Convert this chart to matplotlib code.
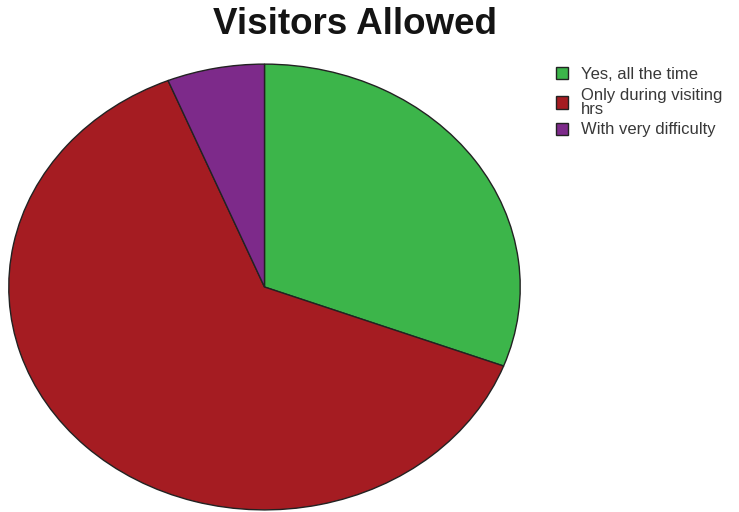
import matplotlib.pyplot as plt

plt.rcParams['font.family'] = ['Liberation Sans', 'DejaVu Sans']

labels = ['Yes, all the time', 'Only during visiting\nhrs', 'With very difficulty']
counts = [20, 41, 4]
colors = ['#3cb54a', '#a51c22', '#7d2a8a']

fig = plt.figure(figsize=(7.39, 5.12), dpi=100)

# stretched pie, wider than tall
ax = fig.add_axes([(264.5 - 257) / 739, (512 - 511) / 512, 514 / 739, 448 / 512])
wedges, _ = ax.pie(counts, colors=colors, startangle=90, counterclock=False,
                   radius=1.0, wedgeprops=dict(edgecolor='#222222', linewidth=1.0))
ax.set_aspect('auto')
ax.set_xlim(-1.005, 1.005)
ax.set_ylim(-1.005, 1.005)
ax.axis('off')

fig.text(0.481, 0.952, 'Visitors Allowed', ha='center', va='center',
         fontsize=26.5, fontweight='bold', color='#141414')

leg = fig.legend(wedges, labels, loc='upper left', bbox_to_anchor=(0.743, 0.882),
                 frameon=False, fontsize=12, handlelength=0.75, handleheight=0.75,
                 handletextpad=0.75, labelspacing=0.33, borderaxespad=0)
for t in leg.get_texts():
    t.set_color('#383838')
    t.set_linespacing(0.95)

fig.savefig('out.png', dpi=100)
